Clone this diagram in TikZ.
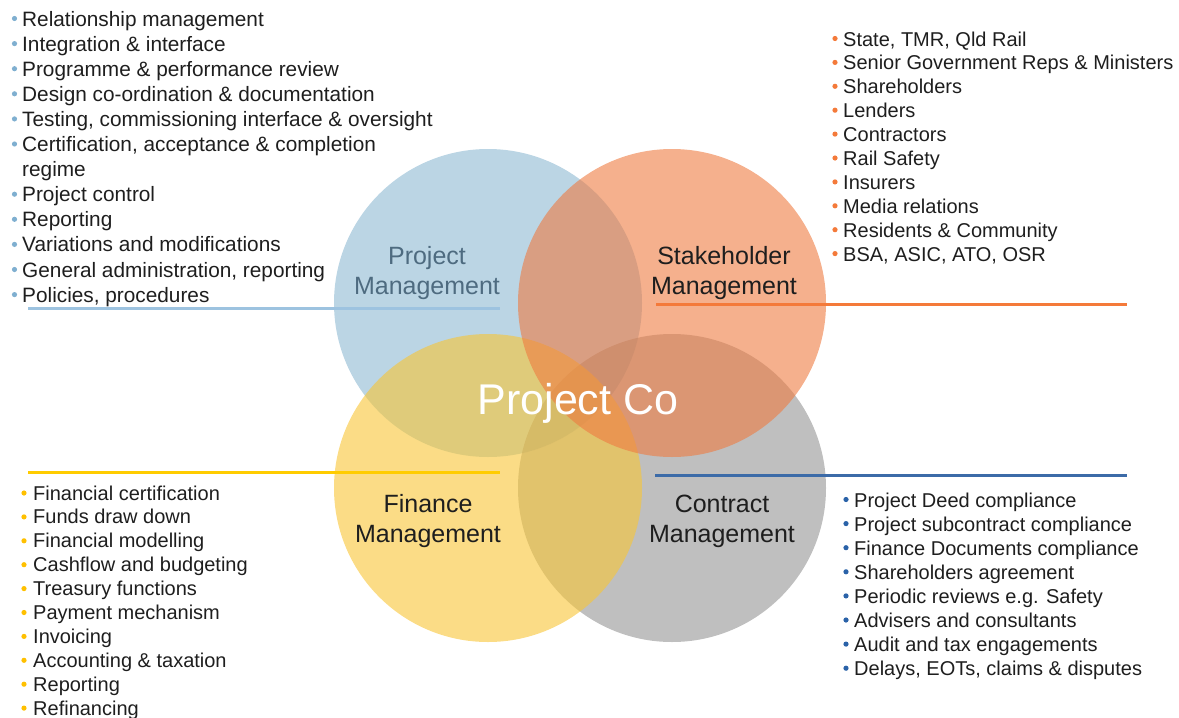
\documentclass[tikz,border=0pt]{standalone}
\usepackage{fontspec}
\setmainfont{Liberation Sans}
\definecolor{cblue}{HTML}{8EB9D2}
\definecolor{corange}{HTML}{EE7B41}
\definecolor{cyellow}{HTML}{F8C535}
\definecolor{cgray}{HTML}{949494}
\definecolor{rblue}{HTML}{9DC3E0}
\definecolor{rorange}{HTML}{F47A3A}
\definecolor{ryellow}{HTML}{FFCC00}
\definecolor{rdblue}{HTML}{3C6BA8}
\definecolor{bblue}{HTML}{7FAFD0}
\definecolor{borange}{HTML}{F47A3A}
\definecolor{byellow}{HTML}{FFC000}
\definecolor{bdblue}{HTML}{2A62A8}
\definecolor{txt}{HTML}{1E1E1E}
\definecolor{pmtxt}{HTML}{4E6B80}
\begin{document}
\begin{tikzpicture}[x=1pt,y=-1pt,
  venn/.style={circle, minimum size=308pt, inner sep=0pt, draw=none, fill opacity=0.6},
  lst/.style={anchor=base west, inner sep=0pt, text=txt, font=\fontsize{20}{24}\selectfont},
  lstbig/.style={lst, font=\fontsize{20.8}{25}\selectfont},
  lab/.style={anchor=base, inner sep=0pt, text width=240pt, align=center, font=\fontsize{25}{30.5}\selectfont},
  rulebar/.style={line width=3pt},
  bul/.style={draw=none}]
\useasboundingbox (0,0) rectangle (1179,718);
% circles
\node[venn, fill=cblue] (pm) at (488,303) {};
\node[venn, fill=cgray] (cm) at (672,488) {};
\node[venn, fill=cyellow] (fm) at (488,488) {};
\node[venn, fill=corange] (sm) at (672,303) {};
% rules
\coordinate (r1a) at (28,308); \coordinate (r1b) at (500,308);
\coordinate (r2a) at (656,304); \coordinate (r2b) at (1127,304);
\coordinate (r3a) at (28,472); \coordinate (r3b) at (500,472);
\coordinate (r4a) at (655,475); \coordinate (r4b) at (1127,475);
\draw[rulebar, rblue] (r1a) -- (r1b);
\draw[rulebar, rorange] (r2a) -- (r2b);
\draw[rulebar, ryellow] (r3a) -- (r3b);
\draw[rulebar, rdblue] (r4a) -- (r4b);
% labels
\node[lab, text=pmtxt] (pml) at (427,264) {Project\\Management};
\node[lab, text=txt] (sml) at (724,264) {Stakeholder\\Management};
\node[lab, text=txt] (fml) at (428,512) {Finance\\Management};
\node[lab, text=txt] (cml) at (722,512) {Contract\\Management};
\node[anchor=base, inner sep=0pt, text=white, font=\fontsize{43}{50}\selectfont] (pc) at (578,414) {Project Co};
% top-left list
\foreach \t [count=\i from 0] in {Relationship management, Integration \& interface,
  Programme \& performance review, Design co-ordination \& documentation,
  {Testing, commissioning interface \& oversight}, {Certification, acceptance \& completion},
  regime, Project control, Reporting, Variations and modifications,
  {General administration, reporting}, {Policies, procedures}}
  {\node[lstbig] (tl\i) at (22,26+25.1*\i) {\t};}
\foreach \i in {0,...,5,7,8,9,10,11}
  {\fill[bul, bblue] (14.5,18.5+25.1*\i) circle (2.6pt);}
% top-right list
\foreach \t [count=\i from 0] in {{State, TMR, Qld Rail}, Senior Government Reps \& Ministers,
  Shareholders, Lenders, Contractors, Rail Safety, Insurers, Media relations,
  Residents \& Community, {BSA, ASIC, ATO, OSR}}
  {\node[lst] (tr\i) at (843,46+23.9*\i) {\t};
   \fill[bul, borange] (835,38.5+23.9*\i) circle (2.6pt);}
% bottom-left list
\foreach \t [count=\i from 0] in {Financial certification, Funds draw down, Financial modelling,
  Cashflow and budgeting, Treasury functions, Payment mechanism, Invoicing,
  Accounting \& taxation, Reporting, Refinancing}
  {\node[lst] (bl\i) at (33,500+23.9*\i) {\t};
   \fill[bul, byellow] (24,493+23.9*\i) circle (2.6pt);}
% bottom-right list
\foreach \t [count=\i from 0] in {Project Deed compliance, Project subcontract compliance,
  Finance Documents compliance, Shareholders agreement, Periodic reviews e.g. Safety,
  Advisers and consultants, Audit and tax engagements, {Delays, EOTs, claims \& disputes}}
  {\node[lst] (br\i) at (854,507+24.1*\i) {\t};
   \fill[bul, bdblue] (846,499.5+24.1*\i) circle (2.6pt);}
\end{tikzpicture}
\end{document}
